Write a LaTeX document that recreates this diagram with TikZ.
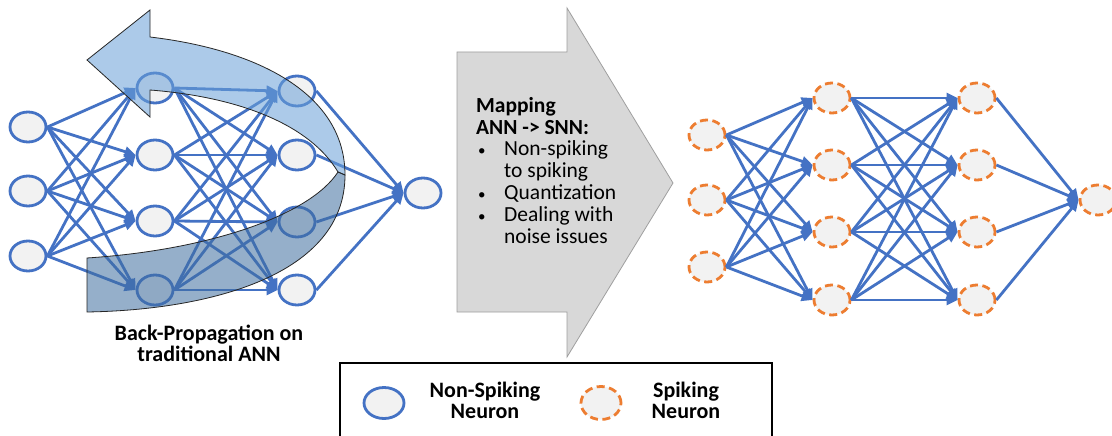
\documentclass[tikz,border=0pt]{standalone}
\usepackage{fontspec}
\setmainfont{Carlito}
\usepackage{xcolor}
\definecolor{nnblue}{RGB}{68,114,196}
\definecolor{nnorange}{RGB}{237,125,49}
\definecolor{nnfill}{RGB}{242,242,242}
\definecolor{mapgray}{RGB}{216,216,216}
\definecolor{bplight}{RGB}{105,160,216}
\definecolor{bpdark}{RGB}{63,110,160}
\usepackage{tikz}
\usetikzlibrary{shapes.geometric, arrows.meta, positioning, calc}

\tikzset{
  nonspike/.style={ellipse, draw=nnblue, fill=nnfill, line width=2.8pt,
    minimum width=36pt, minimum height=30pt, inner sep=0pt},
  spike/.style={nonspike, draw=nnorange, dash pattern=on 8pt off 4.5pt},
  syn/.style={draw=nnblue, line width=2.8pt, -{Triangle[length=11pt,width=10pt]}},
  bigtext/.style={font=\fontsize{21.5}{21.8}\selectfont, inner sep=0pt},
  boldtext/.style={font=\fontsize{22}{21}\selectfont\bfseries, inner sep=0pt, align=center},
}

\begin{document}
\begin{tikzpicture}[x=1pt, y=-1pt]
\useasboundingbox (0,0) rectangle (1112,436);
\clip (0,0) rectangle (1112,436);
\fill[white] (0,0) rectangle (1112,436);

% traditional ANN
\foreach \i/\y in {1/127, 2/191, 3/256}
  \node[nonspike] (a\i) at (28,\y) {};
\foreach \i/\y in {1/88, 2/155, 3/221, 4/290}
  \node[nonspike] (b\i) at (155,\y) {};
\foreach \i/\y in {1/91, 2/155, 3/222, 4/290}
  \node[nonspike] (c\i) at (297,\y) {};
\node[nonspike] (d) at (423,193) {};

\foreach \i in {1,2,3}
  \foreach \j in {1,...,4}
    \draw[syn] (a\i.east) -- (b\j.west);
\foreach \i in {1,...,4}
  \foreach \j in {1,...,4}
    \draw[syn] (b\i.east) -- (c\j.west);
\foreach \i in {1,...,4}
  \draw[syn] (c\i.east) -- (d.west);

% curved back-propagation arrow
\filldraw[fill=bplight, fill opacity=0.55, draw=black!85, line width=0.8pt]
  (150,37) -- (150,10) -- (87,60) -- (150,117) -- (150,90)
  .. controls (240,97) and (310,125) .. (338,172) -- (345,175)
  .. controls (345,95) and (260,50) .. (150,37) -- cycle;
\filldraw[fill=bpdark, fill opacity=0.55, draw=black!85, line width=0.8pt]
  (338,172) .. controls (310,215) and (210,250) .. (87,258) -- (87,312)
  .. controls (210,310) and (345,275) .. (345,175) -- cycle;

\node[boldtext] (bptext) at (209,343) {Back-Propagation on\\traditional ANN};

% mapping arrow
\filldraw[fill=mapgray, draw=gray!75, line width=0.8pt]
  (457,52) -- (567,52) -- (567,8) -- (673,183) -- (567,357) -- (567,312)
  -- (457,312) -- cycle;
\def\ind{28pt}
\def\bul{\makebox[\ind][l]{\hspace{2pt}\fontsize{15}{15}\selectfont\textbullet}}
\node[bigtext, align=left, anchor=north west] (maptext) at (476,97)
  {\textbf{Mapping}\\
   \textbf{ANN -> SNN:}\\
   \bul Non-spiking\\
   \hspace*{\ind}to spiking\\
   \bul Quantization\\
   \bul Dealing with\\
   \hspace*{\ind}noise issues};

% SNN
\foreach \i/\y in {1/135, 2/200, 3/267}
  \node[spike] (sa\i) at (707,\y) {};
\foreach \i/\y in {1/98, 2/165, 3/232, 4/300}
  \node[spike] (sb\i) at (832,\y) {};
\foreach \i/\y in {1/98, 2/165, 3/232, 4/300}
  \node[spike] (sc\i) at (977,\y) {};
\node[spike] (sd) at (1098,200) {};

\foreach \i in {1,2,3}
  \foreach \j in {1,...,4}
    \draw[syn] (sa\i.east) -- (sb\j.west);
\foreach \i in {1,...,4}
  \foreach \j in {1,...,4}
    \draw[syn] (sb\i.east) -- (sc\j.west);
\foreach \i in {1,...,4}
  \draw[syn] (sc\i.east) -- (sd.west);

% legend
\draw[line width=2pt] (340,363) rectangle (772,450);
\node[nonspike, minimum width=40pt, minimum height=31pt] (lgnon) at (384,403) {};
\node[boldtext] (lgnontext) at (485,400) {Non-Spiking\\Neuron};
\node[spike, minimum width=40pt, minimum height=33pt] (lgspk) at (601,403) {};
\node[boldtext] (lgspktext) at (686,400) {Spiking\\Neuron};
\end{tikzpicture}
\end{document}
